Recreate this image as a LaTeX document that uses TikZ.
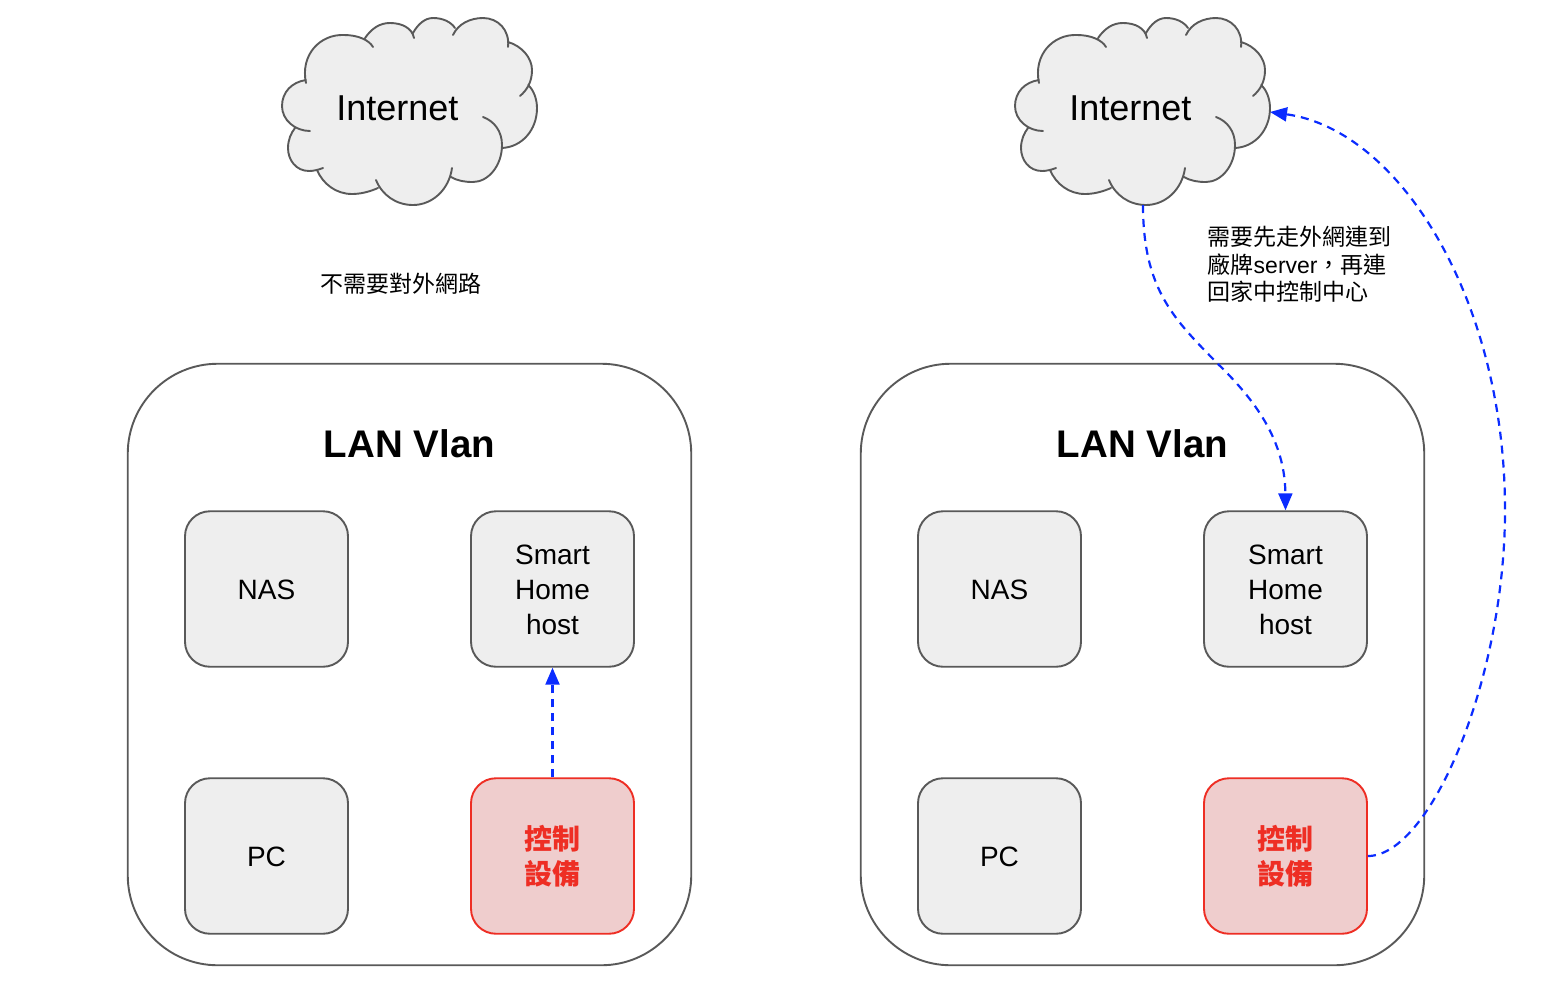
\documentclass[tikz,border=0pt]{standalone}
\usepackage{fontspec}
\setmainfont{Liberation Sans}
\newfontfamily\cjk{Noto Sans CJK TC}
\usetikzlibrary{arrows.meta}
\definecolor{boxfill}{HTML}{EEEEEE}
\definecolor{boxline}{HTML}{595959}
\definecolor{redfill}{HTML}{EFCDCD}
\definecolor{redline}{HTML}{EE2E24}
\definecolor{linkblue}{HTML}{0B2CFF}
\tikzset{
  lanbox/.style={draw=boxline,line width=1.9pt,fill=white,rounded corners=90pt,minimum width=563.5pt,minimum height=601.5pt,inner sep=0pt},
  devbox/.style={draw=boxline,line width=1.9pt,fill=boxfill,rounded corners=25pt,minimum width=163pt,minimum height=155.5pt,inner sep=0pt,align=center,font=\fontsize{28}{35}\selectfont},
  devtext/.style={inner sep=0pt,align=center,yshift=-1pt,font=\fontsize{28}{35}\selectfont},
  ctrlbox/.style={devbox,draw=redline,fill=redfill,text=redline,font=\fontsize{28}{35}\selectfont\cjk\bfseries},
  lantitle/.style={inner sep=0pt,font=\fontsize{38.5}{46}\selectfont\bfseries},
  nettext/.style={inner sep=0pt,font=\fontsize{36}{42}\selectfont},
  note/.style={inner sep=0pt,align=left,font=\fontsize{23}{27.5}\selectfont\cjk},
  link/.style={draw=linkblue,line width=2.2pt,dash pattern=on 8pt off 6pt,-{Triangle[length=17pt,width=14pt]}},
  cloudline/.style={draw=boxline,line width=1.9pt,line cap=round},
}
% cloud lobes, in reference pixels of the left-hand cloud; #1 joins the lobes
\newcommand{\cloudlobes}[1]{
  (306,83) .. controls (300,55) and (320,34) .. (344,35) .. controls (358,35) and (369,40) .. (373,47) #1
  (365,38) .. controls (372,28) and (380,23) .. (390,23) .. controls (402,23) and (412,28) .. (414,38) #1
  (413,33) .. controls (418,24) and (425,18) .. (433,18) .. controls (443,18) and (451,22) .. (455,28) #1
  (453,35) .. controls (458,24) and (470,18) .. (483,18) .. controls (498,18) and (510,30) .. (508,47) #1
  (508,42) .. controls (522,46) and (532,58) .. (532,70) .. controls (532,82) and (527,90) .. (520,96) #1
  (528,85) .. controls (534,90) and (537,100) .. (537,108) .. controls (537,130) and (522,147) .. (502,148) #1
  (483,117) .. controls (494,121) and (502,131) .. (502,145) .. controls (502,166) and (488,182) .. (473,182) .. controls (465,182) and (458,181) .. (451,177) #1
  (452,168) .. controls (449,190) and (432,205) .. (413,205) .. controls (396,205) and (382,195) .. (376,180) #1
  (378,188) .. controls (369,192) and (360,194) .. (352,194) .. controls (336,194) and (323,184) .. (317,170) #1
  (323,168) .. controls (318,170) and (313,171) .. (309,171) .. controls (296,171) and (288,160) .. (288,148) .. controls (288,140) and (291,133) .. (295,128) #1
  (310,131) .. controls (295,131) and (282,120) .. (282,106) .. controls (282,92) and (292,82) .. (306,80)
}
\newcommand{\cloudshape}{%
  \fill[boxfill] \cloudlobes{--} -- cycle;
  \draw[cloudline] \cloudlobes{};
}
\newcommand{\lanblock}{%
  \node[lanbox] (lan) at (409.5,664.5) {};
  \node[lantitle] (title) at (409.5,444) {LAN Vlan};
  \node[devbox,label={[devtext]center:NAS}] (nas) at (266.5,589) {};
  \node[devbox,label={[devtext]center:{Smart\\Home\\host}}] (host) at (552.5,589) {};
  \node[devbox,label={[devtext]center:PC}] (pc) at (266.5,856) {};
  \node[ctrlbox] (ctrl) at (552.5,856) {控制\\設備};
  \cloudshape
  \node[nettext] (net) at (397.3,108) {Internet};
  \coordinate (netsouth) at (410,205);
  \coordinate (neteast) at (537,112);
}
\begin{document}
\begin{tikzpicture}[x=1pt,y=-1pt]
  \useasboundingbox (0,0) rectangle (1560,986);
  \begin{scope}[name prefix=l-]
    \lanblock
    \node[note,align=center] (lnote) at (400.5,284) {不需要對外網路};
    \draw[link] (ctrl.north) -- (host.south);
  \end{scope}
  \begin{scope}[shift={(733,0)},name prefix=r-]
    \lanblock
    \node[note,anchor=north west] (rnote) at (474.5,226) {需要先走外網連到\\廠牌{\rmfamily server}，再連\\回家中控制中心};
  \end{scope}
  \coordinate (r-mid1) at (1217,363);
  \coordinate (r-mid2) at (1505,510);
  \draw[link] (r-netsouth) .. controls (1143,290) and (1175,320) .. (r-mid1) .. controls (1255,400) and (1285,440) .. (r-host.north);
  \draw[link] (r-ctrl.east) .. controls (1430,856) and (1505,680) .. (r-mid2) .. controls (1505,300) and (1400,130) .. (r-neteast);
\end{tikzpicture}
\end{document}
